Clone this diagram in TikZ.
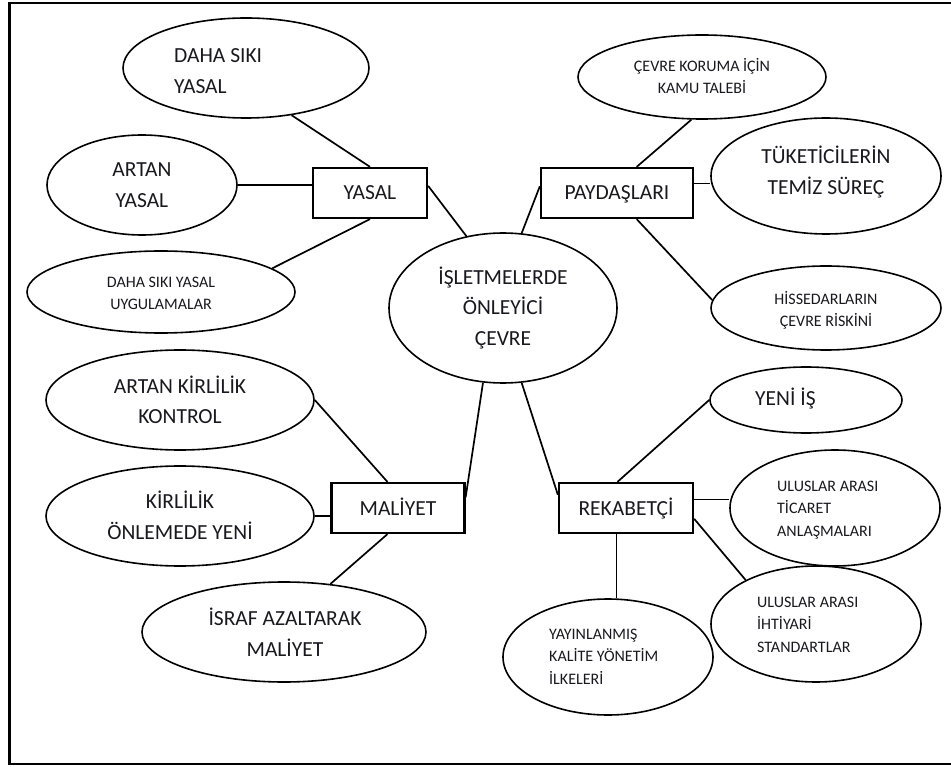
\documentclass[tikz,border=0pt]{standalone}
\usepackage{fontspec}
\setmainfont{Carlito}
\usetikzlibrary{shapes.geometric}
\definecolor{ink}{HTML}{18181E}
\tikzset{
  x=1pt, y=-1pt,
  oval/.style={ellipse, draw=black, line width=1.6pt, inner sep=0pt,
    minimum width=#1},
  tagbox/.style={rectangle, draw=black, line width=2.3pt, inner sep=0pt,
    text height=14pt, text depth=0pt, font=\fontsize{21.5}{31}\selectfont,
    text=ink},
  bigtxt/.style={font=\fontsize{21.5}{31}\selectfont, text=ink, inner sep=0pt},
  smalltxt/.style={font=\fontsize{16}{22.5}\selectfont, text=ink, inner sep=0pt},
  conn/.style={draw=black, line width=1.7pt},
}
\begin{document}
\begin{tikzpicture}
\useasboundingbox (0,0) rectangle (951,767);

% outer frame (open on the right)
\coordinate (fTR) at (951,3);
\coordinate (fTL) at (9.5,3);
\coordinate (fBL) at (9.5,764);
\coordinate (fBR) at (951,764);
\draw[line width=2.8pt] (fTR) -- (fTL) -- (fBL) -- (fBR);

% centre (text anchors: baseline of the last line)
\node[oval=228pt, minimum height=150pt] (core) at (503,308) {};
\node[bigtxt, align=center, anchor=base] (coret) at (503,346)
  {İŞLETMELERDE\\ÖNLEYİCİ\\ÇEVRE};

% category boxes
\node[tagbox, minimum width=114pt, minimum height=50pt] (yasal) at (370,193) {YASAL};
\node[tagbox, minimum width=152pt, minimum height=50pt] (payd) at (617,193) {PAYDAŞLARI};
\node[tagbox, minimum width=133pt, minimum height=50pt] (mal) at (398,508) {MALİYET};
\node[tagbox, minimum width=134pt, minimum height=50pt] (rek) at (626,508) {REKABETÇİ};

% YASAL group
\node[oval=246pt, minimum height=100pt] (dsy) at (246,68) {};
\node[bigtxt, align=left, anchor=base west] (dsyt) at (174,94) {DAHA SIKI\\YASAL};
\node[oval=190pt, minimum height=100pt] (ay) at (142,185) {};
\node[bigtxt, align=center, anchor=base] (ayt) at (142,208) {ARTAN\\YASAL};
\node[oval=268pt, minimum height=82pt] (du) at (161,292) {};
\node[smalltxt, align=center, anchor=base] (dut) at (161,310) {DAHA SIKI YASAL\\UYGULAMALAR};

% PAYDAŞLARI group
\node[oval=248pt, minimum height=84pt] (ck) at (702,77) {};
\node[smalltxt, align=center, anchor=base] (ckt) at (702,94) {ÇEVRE KORUMA İÇİN\\KAMU TALEBİ};
\node[oval=230pt, minimum height=116pt] (tk) at (826,176) {};
\node[bigtxt, align=center, anchor=base] (tkt) at (826,195) {TÜKETİCİLERİN\\TEMİZ SÜREÇ};
\node[oval=230pt, minimum height=84pt] (hs) at (826,308) {};
\node[smalltxt, align=center, anchor=base] (hst) at (826,327) {HİSSEDARLARIN\\ÇEVRE RİSKİNİ};

% MALİYET group
\node[oval=268pt, minimum height=100pt] (ak) at (180,400) {};
\node[bigtxt, align=center, anchor=base] (akt) at (180,424) {ARTAN KİRLİLİK\\KONTROL};
\node[oval=268pt, minimum height=100pt] (ko) at (180,516) {};
\node[bigtxt, align=center, anchor=base] (kot) at (180,539) {KİRLİLİK\\ÖNLEMEDE YENİ};
\node[oval=284pt, minimum height=100pt] (isr) at (284,632) {};
\node[bigtxt, align=center, anchor=base] (isrt) at (285,656) {İSRAF AZALTARAK\\MALİYET};

% REKABETÇİ group
\node[oval=192pt, minimum height=66pt] (ye) at (806,400) {};
\node[bigtxt, anchor=base west] (yet) at (755,406) {YENİ İŞ};
\node[oval=210pt, minimum height=116pt] (tc) at (835,508) {};
\node[smalltxt, align=left, anchor=base west] (tct) at (777,536)
  {ULUSLAR ARASI\\TİCARET\\ANLAŞMALARI};
\node[oval=210pt, minimum height=116pt] (ih) at (816,624) {};
\node[smalltxt, align=left, anchor=base west] (iht) at (757,652)
  {ULUSLAR ARASI\\İHTİYARİ\\STANDARTLAR};
\node[oval=210pt, minimum height=116pt] (yy) at (608,657) {};
\node[smalltxt, align=left, anchor=base west] (yyt) at (549,684)
  {YAYINLANMIŞ\\KALİTE YÖNETİM\\İLKELERİ};

% connectors
\draw[conn] (core.117) -- (yasal.7);
\draw[conn] (core.76) -- (payd.175);
\draw[conn] (core.-105) -- (mal.9);
\draw[conn] (core.-76) -- (rek.169);

\draw[conn] (dsy.-46) -- (yasal.north);
\draw[conn] (ay.east) -- (ay.east -| yasal.west);
\draw[conn] (du.12) -- (yasal.south);

\draw[conn] (ck.256) -- (payd.53);
\draw[conn] (payd.7) -- (payd.7 -| tk.west);
\draw[conn] (payd.-53) -- (hs.176);

\draw[conn] (ak.east) -- (mal.112);
\draw[conn] (ko.east) -- (ko.east -| mal.west);
\draw[conn] (mal.-112) -- (isr.46);

\draw[conn] (rek.108) -- (ye.west);
\draw[conn] (rek.7) -- (rek.7 -| tc.west);
\draw[conn] (rek.-9) -- (ih.148);
\draw[conn] (rek.-110) -- (rek.-110 |- yy.north);
\end{tikzpicture}
\end{document}
